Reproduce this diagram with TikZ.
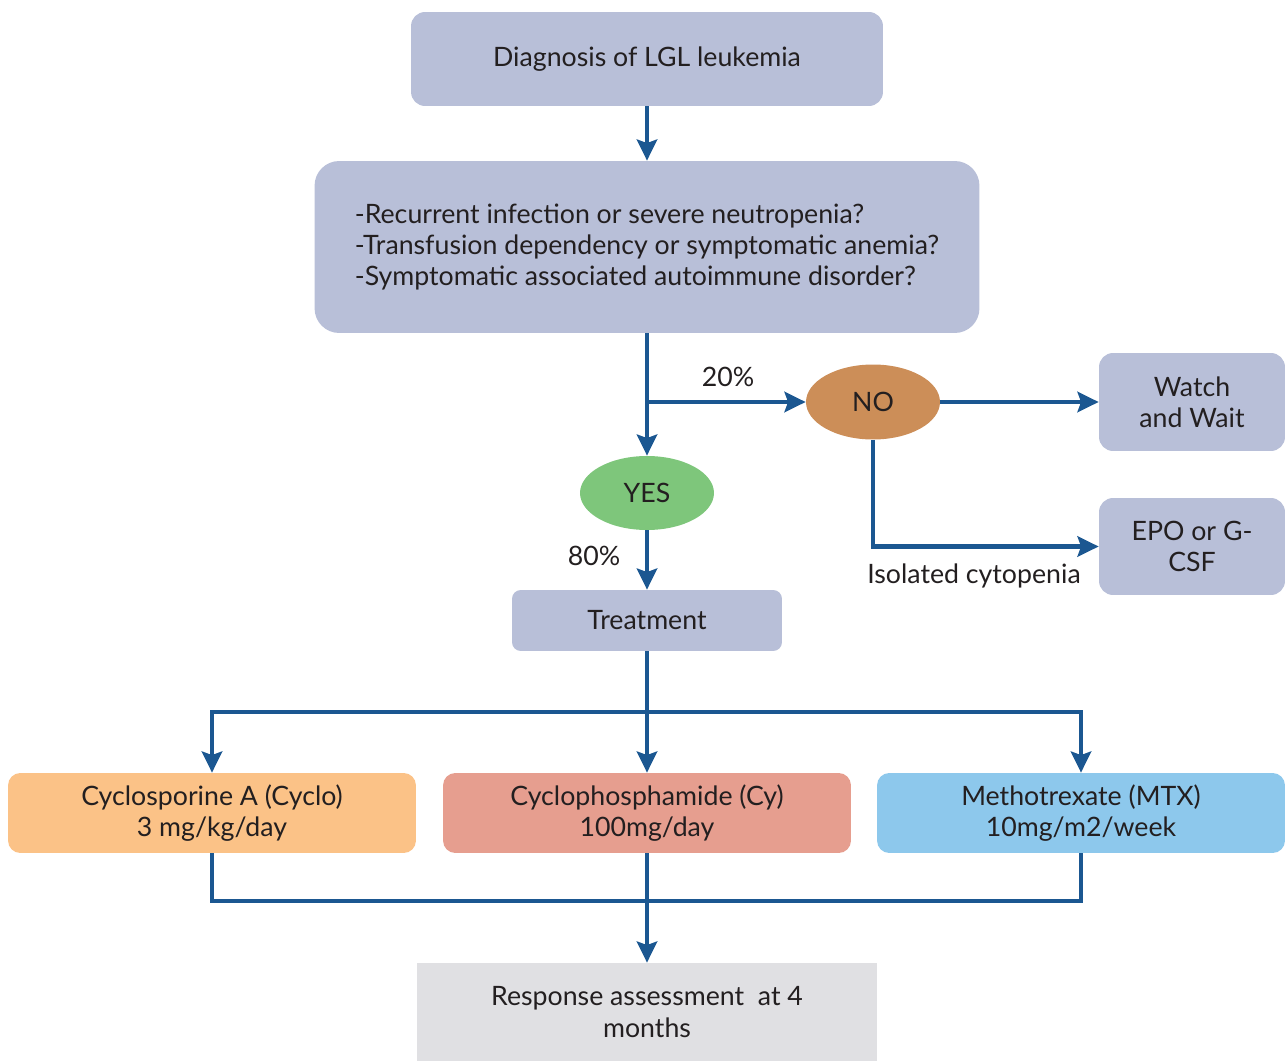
\documentclass[tikz,border=0pt]{standalone}
\usepackage{fontspec}
\setmainfont{Lato}
\usetikzlibrary{arrows.meta,shapes.geometric}
\definecolor{boxgrey}{HTML}{B8BFD8}
\definecolor{nocol}{HTML}{CC8E58}
\definecolor{yescol}{HTML}{7EC67B}
\definecolor{cyclocol}{HTML}{FBC287}
\definecolor{cycol}{HTML}{E69E8F}
\definecolor{mtxcol}{HTML}{8DC8EC}
\definecolor{respcol}{HTML}{E0E0E3}
\definecolor{linecol}{HTML}{1B5791}
\definecolor{txt}{HTML}{231F20}
\begin{document}
\begin{tikzpicture}[x=0.02cm,y=-0.02cm,
  every node/.style={text=txt,font=\fontsize{15.2}{17.9}\selectfont,inner sep=0pt},
  box/.style={draw=none,fill=boxgrey,rounded corners=8pt,align=center},
  drug/.style={draw=none,rounded corners=7pt,align=center,minimum width=8.16cm,minimum height=1.6cm},
  oval/.style={ellipse,draw=none,minimum width=2.68cm,minimum height=1.5cm},
  conn/.style={draw=linecol,line width=2.4pt},
  arr/.style={conn,-{Stealth[length=12pt,width=11.5pt,inset=2pt]}},
  lbl/.style={fill=none}]
\useasboundingbox (0,0) rectangle (1285,1061);

% decision chain
\node[box,minimum width=9.44cm,minimum height=1.88cm] (diag) at (647,59) {Diagnosis of LGL leukemia};
\node[box,rounded corners=14pt,minimum width=13.3cm,minimum height=3.44cm,align=left] (q) at (647,247)
  {-Recurrent infection or severe neutropenia?\\-Transfusion dependency or symptomatic anemia?\\-Symptomatic associated autoimmune disorder?};
\node[oval,fill=nocol] (no) at (873,402) {NO};
\node[box,minimum width=3.72cm,minimum height=1.96cm] (watch) at (1192,402) {Watch\\and Wait};
\node[box,minimum width=3.72cm,minimum height=1.94cm] (epo) at (1192,546.5) {EPO or G-\\CSF};
\node[oval,fill=yescol,minimum height=1.48cm] (yes) at (647,493) {YES};
\node[box,rounded corners=5pt,minimum width=5.4cm,minimum height=1.22cm] (treat) at (647,620.5) {Treatment};

% treatment options
\node[drug,fill=cyclocol] (cyclo) at (212,813) {Cyclosporine A (Cyclo)\\3 mg/kg/day};
\node[drug,fill=cycol] (cy) at (647,813) {Cyclophosphamide (Cy)\\100mg/day};
\node[drug,fill=mtxcol] (mtx) at (1081,813) {Methotrexate (MTX)\\10mg/m2/week};
\node[fill=respcol,minimum width=9.2cm,minimum height=1.96cm,align=center] (resp) at (647,1012)
  {Response assessment\ \ at 4\\months};

% connectors
\coordinate (br) at (647,402);
\coordinate (split) at (647,712);
\coordinate (join) at (647,901);
\draw[arr] (diag) -- (q);
\draw[arr] (q.south) -- (yes.north);
\draw[arr] (br) -- (no.west);
\draw[arr] (no) -- (watch);
\draw[arr] (no.south) |- (epo.west);
\draw[arr] (yes) -- (treat);
\draw[conn] (treat.south) -- (split);
\draw[arr] (split) -- (cy.north);
\draw[arr] (split) -| (cyclo.north);
\draw[arr] (split) -| (mtx.north);
\draw[conn] (cyclo.south) |- (join) -| (mtx.south);
\draw[arr] (cy.south) -- (resp.north);

% branch labels
\node[lbl] (p20) at (728,377) {20\%};
\node[lbl] (p80) at (594,556) {80\%};
\node[lbl] (iso) at (974,576) {Isolated cytopenia};
\end{tikzpicture}
\end{document}
